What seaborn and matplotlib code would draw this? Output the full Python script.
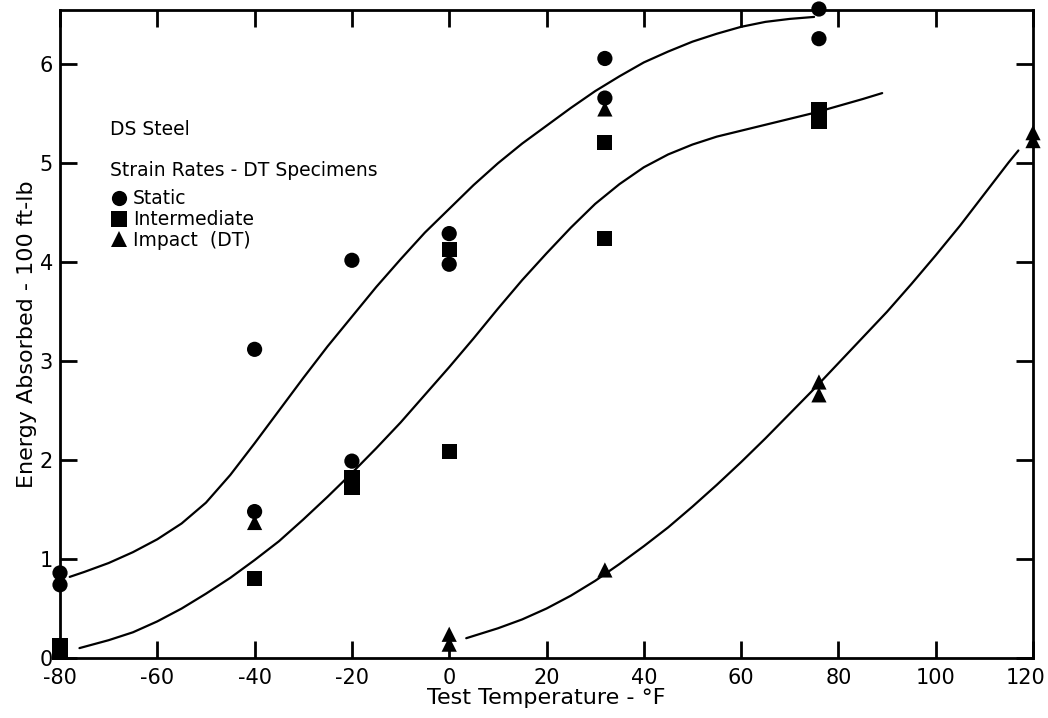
import numpy as np
import pandas as pd
import matplotlib.pyplot as plt
import matplotlib.transforms as mtransforms
import seaborn as sns

# puntos medidos (temperatura en °F, energia en 100 ft-lb)
static_t = [-80, -80, -40, -40, -20, -20, 0, 0, 32, 32, 76, 76]
static_e = [0.86, 0.74, 3.12, 1.48, 4.02, 1.99, 4.29, 3.98, 6.06, 5.66, 6.56, 6.26]

inter_t = [-80, -80, -40, -20, -20, 0, 0, 32, 32, 76, 76]
inter_e = [0.13, 0.06, 0.80, 1.82, 1.72, 2.09, 4.13, 5.21, 4.24, 5.54, 5.42]

impact_t = [-40, 0, 0, 32, 32, 76, 76, 120, 120]
impact_e = [1.37, 0.24, 0.14, 5.55, 0.89, 2.79, 2.66, 5.31, 5.23]

# curvas dibujadas a mano
curve_static_t = [-78, -75, -70, -65, -60, -55, -50, -45, -40, -35, -30, -25, -20, -15, -10, -5, 0,
                  5, 10, 15, 20, 25, 30, 35, 40, 45, 50, 55, 60, 65, 70, 75]
curve_static_e = [0.82, 0.87, 0.96, 1.07, 1.20, 1.36, 1.57, 1.85, 2.17, 2.50, 2.83, 3.15, 3.45, 3.75, 4.03, 4.30, 4.54,
                  4.78, 5.00, 5.20, 5.38, 5.56, 5.73, 5.88, 6.02, 6.13, 6.23, 6.31, 6.38, 6.43, 6.46, 6.48]

curve_inter_t = [-76, -70, -65, -60, -55, -50, -45, -40, -35, -30, -25, -20, -15, -10, -5, 0,
                 5, 10, 15, 20, 25, 30, 35, 40, 45, 50, 55, 60, 65, 70, 75, 80, 85, 89]
curve_inter_e = [0.10, 0.18, 0.26, 0.37, 0.50, 0.65, 0.81, 0.99, 1.18, 1.40, 1.63, 1.87, 2.12, 2.38, 2.66, 2.94,
                 3.23, 3.53, 3.82, 4.09, 4.35, 4.59, 4.79, 4.96, 5.09, 5.19, 5.27, 5.33, 5.39, 5.45, 5.51, 5.58, 5.65, 5.71]

curve_impact_t = [3.5, 10, 15, 20, 25, 30, 35, 40, 45, 50, 55, 60, 65, 70, 75, 80, 85, 90, 95, 100, 105, 110, 115, 117]
curve_impact_e = [0.20, 0.30, 0.39, 0.50, 0.63, 0.78, 0.95, 1.13, 1.32, 1.53, 1.75, 1.98, 2.22, 2.47, 2.72, 2.98,
                  3.24, 3.50, 3.78, 4.07, 4.37, 4.69, 5.01, 5.13]

labels = ["Static", "Intermediate", "Impact  (DT)"]

df = pd.concat([
    pd.DataFrame({"t": static_t, "e": static_e, "tipo": labels[0]}),
    pd.DataFrame({"t": inter_t, "e": inter_e, "tipo": labels[1]}),
    pd.DataFrame({"t": impact_t, "e": impact_e, "tipo": labels[2]}),
])

negro = {"text.color": "black", "axes.labelcolor": "black", "xtick.color": "black",
         "ytick.color": "black", "axes.edgecolor": "black", "axes.unicode_minus": False}
sns.set_theme(style="ticks", rc=negro)
plt.rcParams["font.family"] = ["DejaVu Sans"]

fig, ax = plt.subplots(figsize=(10.48, 7.18), dpi=100)
fig.subplots_adjust(left=60 / 1048, right=1033 / 1048, bottom=1 - 658 / 718, top=1 - 10 / 718)

for ct, ce in [(curve_static_t, curve_static_e), (curve_inter_t, curve_inter_e), (curve_impact_t, curve_impact_e)]:
    sns.lineplot(x=ct, y=ce, color="black", linewidth=1.6, sort=False, estimator=None, ax=ax)

sns.scatterplot(data=df, x="t", y="e", style="tipo", markers={labels[0]: "o", labels[1]: "s", labels[2]: "^"},
                color="black", s=120, edgecolor="black", linewidth=0, clip_on=False, zorder=5, ax=ax)

ax.set_xlim(-80, 120)
ax.set_ylim(0, 6.55)
ax.set_xticks(np.arange(-80, 121, 20))
ax.set_yticks(np.arange(0, 7, 1))
ax.tick_params(direction="in", length=12, width=2, labelsize=15, top=True, right=True)
ax.tick_params(axis="x", pad=7)
ax.tick_params(axis="y", pad=5)
for sp in ax.spines.values():
    sp.set_linewidth(2)

# mover un poco la etiqueta 120 para que no se corte
ultima = ax.get_xticklabels()[-1]
ultima.set_transform(ultima.get_transform() + mtransforms.ScaledTranslation(-7 / 100, 0, fig.dpi_scale_trans))

ax.set_xlabel("Test Temperature - °F", fontsize=16, labelpad=0)
ax.set_ylabel("Energy Absorbed - 100 ft-lb", fontsize=16, labelpad=2)

ax.text(0.051, 0.815, "DS Steel", transform=ax.transAxes, fontsize=13.5, va="center")
ax.text(0.051, 0.753, "Strain Rates - DT Specimens", transform=ax.transAxes, fontsize=13.5, va="center")

sns.move_legend(ax, "upper left", bbox_to_anchor=(0.041, 0.735), frameon=False, title=None,
                fontsize=13.5, handlelength=1.2, handletextpad=0.15, labelspacing=0.1,
                borderaxespad=0, markerscale=1.0)

plt.savefig("out.png", dpi=100)
